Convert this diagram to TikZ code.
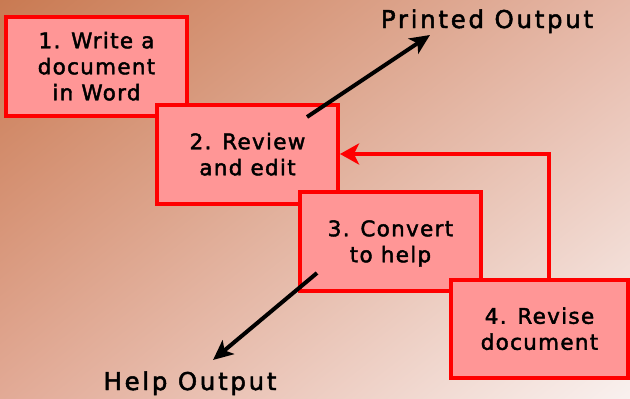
\documentclass[tikz,border=0pt]{standalone}
\usepackage{fontspec}
\usetikzlibrary{arrows.meta,calc,shadings}
\newfontfamily\boxfont[LetterSpace=6,FakeBold=2]{DejaVu Sans}
\newfontfamily\labfont[LetterSpace=11,FakeBold=2]{DejaVu Sans}
\definecolor{bgA}{HTML}{C97A52}
\definecolor{bgB}{HTML}{E6B8A8}
\definecolor{bgC}{HTML}{E2AA96}
\definecolor{bgD}{HTML}{F9F1EF}
\definecolor{boxfill}{HTML}{FF9696}
\definecolor{boxline}{HTML}{FF0000}
\tikzset{
  stepbox/.style={draw=boxline, fill=boxfill, line width=4pt, inner sep=0pt,
    align=center, text depth=0pt, font=\boxfont\fontsize{21.5}{26}\selectfont},
  twolines/.style={text height=41.5pt},
  threelines/.style={text height=67.5pt},
  outlabel/.style={inner sep=0pt, anchor=base, font=\labfont\fontsize{24.5}{28}\selectfont},
  outarrow/.style={line width=4pt, draw=black, -{Stealth[length=20pt,width=18pt,inset=5pt]}},
  backarrow/.style={line width=4pt, draw=boxline, -{Stealth[length=19pt,width=21pt,inset=5pt]}}
}
\begin{document}
\begin{tikzpicture}[x=1pt,y=-1pt]
\useasboundingbox (0,0) rectangle (630,399);
\shade[upper left=bgA, upper right=bgB, lower left=bgC, lower right=bgD] (0,0) rectangle (630,399);
\node[stepbox, threelines, minimum width=181pt, minimum height=99pt] (b1) at (96.5,66.5) {1. Write a\\document\\in Word};
\node[stepbox, twolines, minimum width=181pt, minimum height=99pt] (b2) at (247.5,154.5) {2. Review\\and edit};
\node[stepbox, twolines, minimum width=181pt, minimum height=99pt] (b3) at (390.5,241.5) {3. Convert\\to help};
\node[stepbox, twolines, minimum width=177pt, minimum height=98pt] (b4) at (539.5,329) {4. Revise\\document};
\node[outlabel] (po) at (487,28) {Printed Output};
\node[outlabel] (ho) at (190,390) {Help Output};
\coordinate (ps) at (307,117);
\coordinate (pe) at (430,35);
\coordinate (hs) at (317,273);
\coordinate (he) at (213,360);
\coordinate (fb) at (549,154);
\draw[outarrow] (ps) -- (pe);
\draw[outarrow] (hs) -- (he);
\draw[backarrow] (b4.north -| fb) -- (fb) -- (b2.east |- fb);
\end{tikzpicture}
\end{document}
